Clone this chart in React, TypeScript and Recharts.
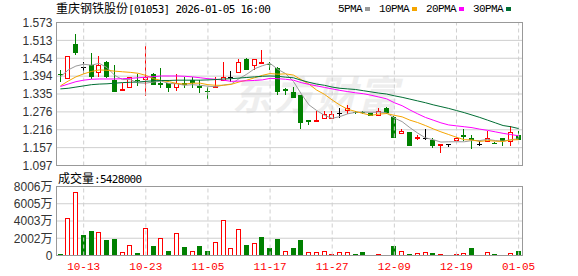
import React from "react";
import { ComposedChart, Bar, Line, XAxis, YAxis, CartesianGrid, ReferenceLine } from "recharts";

// trading days (HK), 60 sessions
const dates = [
  "10-08", "10-09", "10-10", "10-13", "10-14", "10-15", "10-16", "10-17", "10-20", "10-21",
  "10-22", "10-23", "10-24", "10-27", "10-28", "10-30", "10-31", "11-03", "11-04", "11-05",
  "11-06", "11-07", "11-10", "11-11", "11-12", "11-13", "11-14", "11-17", "11-18", "11-19",
  "11-20", "11-21", "11-24", "11-25", "11-26", "11-27", "11-28", "12-01", "12-02", "12-03",
  "12-04", "12-05", "12-08", "12-09", "12-10", "12-11", "12-12", "12-15", "12-16", "12-17",
  "12-18", "12-19", "12-22", "12-23", "12-24", "12-29", "12-30", "12-31", "01-02", "01-05",
];

const opens = [
  1.402, 1.384, 1.503, 1.425, 1.431, 1.404, 1.442, 1.381, 1.344, 1.354,
  1.382, 1.383, 1.403, 1.373, 1.370, 1.356, 1.373, 1.382, 1.360, 1.344,
  1.358, 1.377, 1.392, 1.404, 1.453, 1.428, 1.434, 1.434, 1.423, 1.353,
  1.343, 1.331, 1.249, 1.247, 1.251, 1.251, 1.273, 1.279, 1.276, 1.276,
  1.271, 1.262, 1.290, 1.260, 1.203, 1.209, 1.189, 1.188, 1.182, 1.163,
  1.169, 1.178, 1.199, 1.190, 1.169, 1.174, 1.172, 1.189, 1.174, 1.200,
];
const highs = [
  1.414, 1.462, 1.536, 1.442, 1.473, 1.462, 1.444, 1.433, 1.370, 1.392,
  1.402, 1.494, 1.405, 1.423, 1.373, 1.403, 1.390, 1.392, 1.382, 1.359,
  1.392, 1.442, 1.412, 1.453, 1.455, 1.453, 1.483, 1.443, 1.425, 1.355,
  1.357, 1.333, 1.250, 1.279, 1.279, 1.279, 1.287, 1.298, 1.279, 1.279,
  1.272, 1.290, 1.291, 1.261, 1.218, 1.210, 1.199, 1.220, 1.190, 1.169,
  1.169, 1.196, 1.220, 1.199, 1.179, 1.212, 1.174, 1.190, 1.229, 1.212,
];
const lows = [
  1.376, 1.384, 1.464, 1.403, 1.384, 1.393, 1.389, 1.343, 1.344, 1.354,
  1.363, 1.330, 1.364, 1.354, 1.343, 1.344, 1.354, 1.354, 1.338, 1.320,
  1.357, 1.377, 1.376, 1.404, 1.415, 1.415, 1.434, 1.415, 1.331, 1.332,
  1.321, 1.220, 1.231, 1.247, 1.251, 1.251, 1.254, 1.268, 1.268, 1.268,
  1.262, 1.262, 1.268, 1.190, 1.203, 1.163, 1.181, 1.183, 1.154, 1.138,
  1.160, 1.178, 1.179, 1.151, 1.163, 1.174, 1.168, 1.163, 1.163, 1.182,
];
const closes = [
  1.401, 1.462, 1.473, 1.425, 1.393, 1.433, 1.393, 1.343, 1.352, 1.392,
  1.378, 1.391, 1.364, 1.364, 1.354, 1.371, 1.366, 1.373, 1.354, 1.341,
  1.363, 1.392, 1.392, 1.442, 1.415, 1.453, 1.443, 1.430, 1.343, 1.346,
  1.321, 1.240, 1.243, 1.249, 1.268, 1.268, 1.273, 1.287, 1.274, 1.272,
  1.262, 1.279, 1.271, 1.190, 1.212, 1.163, 1.191, 1.188, 1.163, 1.169,
  1.169, 1.189, 1.191, 1.182, 1.169, 1.189, 1.170, 1.180, 1.209, 1.182,
];

const ma5 = [
  1.392, 1.415, 1.428, 1.434, 1.431, 1.437, 1.423, 1.397, 1.383, 1.383,
  1.372, 1.371, 1.375, 1.378, 1.370, 1.369, 1.364, 1.366, 1.364, 1.361,
  1.359, 1.365, 1.368, 1.386, 1.401, 1.419, 1.429, 1.437, 1.417, 1.403,
  1.377, 1.336, 1.299, 1.280, 1.264, 1.254, 1.260, 1.269, 1.274, 1.275,
  1.274, 1.275, 1.272, 1.255, 1.243, 1.223, 1.205, 1.189, 1.183, 1.175,
  1.176, 1.176, 1.176, 1.180, 1.180, 1.184, 1.180, 1.178, 1.183, 1.186,
];
const ma10 = [
  1.362, 1.378, 1.392, 1.402, 1.410, 1.415, 1.414, 1.411, 1.409, 1.407,
  1.404, 1.397, 1.386, 1.380, 1.376, 1.370, 1.368, 1.371, 1.371, 1.366,
  1.364, 1.364, 1.367, 1.375, 1.381, 1.389, 1.397, 1.403, 1.401, 1.402,
  1.398, 1.383, 1.368, 1.348, 1.334, 1.315, 1.298, 1.284, 1.277, 1.270,
  1.264, 1.268, 1.270, 1.264, 1.259, 1.248, 1.240, 1.230, 1.219, 1.209,
  1.200, 1.191, 1.183, 1.182, 1.177, 1.180, 1.178, 1.177, 1.182, 1.183,
];
const ma20 = [
  1.360, 1.368, 1.376, 1.381, 1.384, 1.385, 1.385, 1.385, 1.386, 1.387,
  1.389, 1.391, 1.393, 1.395, 1.395, 1.395, 1.394, 1.392, 1.389, 1.386,
  1.384, 1.381, 1.377, 1.378, 1.379, 1.380, 1.382, 1.387, 1.386, 1.384,
  1.381, 1.373, 1.367, 1.362, 1.357, 1.352, 1.347, 1.343, 1.339, 1.336,
  1.331, 1.325, 1.319, 1.306, 1.296, 1.282, 1.269, 1.257, 1.248, 1.239,
  1.232, 1.229, 1.226, 1.223, 1.218, 1.214, 1.209, 1.204, 1.200, 1.196,
];
const ma30 = [
  1.352, 1.354, 1.358, 1.362, 1.366, 1.368, 1.369, 1.371, 1.373, 1.374,
  1.375, 1.377, 1.379, 1.380, 1.380, 1.381, 1.381, 1.381, 1.381, 1.382,
  1.383, 1.385, 1.386, 1.388, 1.390, 1.392, 1.394, 1.395, 1.394, 1.391,
  1.389, 1.381, 1.374, 1.368, 1.364, 1.358, 1.354, 1.352, 1.350, 1.346,
  1.342, 1.338, 1.335, 1.329, 1.324, 1.318, 1.312, 1.306, 1.299, 1.293,
  1.287, 1.280, 1.273, 1.265, 1.257, 1.248, 1.239, 1.230, 1.226, 1.220,
];

// volume in 万股, up = red hollow bar
const volumes = [
  232, 4371, 7390, 2321, 2785, 2747, 1741, 1857, 426, 1238,
  348, 3211, 1045, 2050, 580, 2631, 929, 542, 1045, 580,
  1587, 4141, 890, 3096, 1161, 1470, 2090, 813, 1857, 542,
  813, 1741, 426, 426, 542, 232, 426, 426, 232, 464,
  116, 232, 116, 1045, 542, 232, 348, 464, 348, 232,
  116, 232, 348, 813, 116, 464, 232, 116, 348, 543,
];
const volUp = [
  0, 1, 1, 0, 0, 1, 0, 0, 1, 1,
  0, 1, 0, 1, 0, 1, 0, 1, 0, 0,
  1, 1, 1, 1, 0, 1, 0, 0, 0, 1,
  0, 0, 1, 1, 1, 1, 1, 1, 0, 0,
  0, 1, 0, 0, 1, 0, 1, 1, 0, 1,
  1, 1, 1, 0, 1, 1, 0, 1, 1, 0,
];

const priceTicks = [1.097, 1.1565, 1.216, 1.2755, 1.335, 1.3945, 1.454, 1.5135, 1.573];
const priceTickLabels = ["1.097", "1.157", "1.216", "1.276", "1.335", "1.394", "1.454", "1.513", "1.573"];
const volTicks = [0, 2002, 4003, 6005, 8006];
const volTickLabels = ["0", "2002万", "4003万", "6005万", "8006万"];
const dateTicks = ["10-13", "10-23", "11-05", "11-17", "11-27", "12-09", "12-19", "01-05"];

const UP = "#ff0000";
const DOWN = "#008000";
const FLAT = "#000000";
const GRID = "#cfcfcf";
const FRAME = "#999999";

const rows = dates.map((d, i) => ({
  date: d,
  open: opens[i],
  high: highs[i],
  low: lows[i],
  close: closes[i],
  range: [lows[i], highs[i]],
  ma5: ma5[i],
  ma10: ma10[i],
  ma20: ma20[i],
  ma30: ma30[i],
  vol: volumes[i],
  up: volUp[i] === 1,
}));

function Candle(props: any) {
  const { x, y, width, height, payload } = props;
  if (!payload) return null;
  const { open, close, high, low } = payload;
  const top = Math.min(y, y + height);
  const h = Math.abs(height);
  const k = high > low ? h / (high - low) : 0;
  const py = (v: number) => Math.round(top + (high - v) * k);
  const px = Math.floor(x + width / 2);
  const lx = px + 0.5;
  const yH = py(high);
  const yL = py(low);
  if (close > open) {
    const bt = py(close);
    const bb = py(open);
    return (
      <g>
        <line x1={lx} x2={lx} y1={yH} y2={bt} stroke={UP} />
        <line x1={lx} x2={lx} y1={bb} y2={yL} stroke={UP} />
        <rect x={px - 1.5} y={bt + 0.5} width={4} height={Math.max(bb - bt - 1, 1)} fill="#fff" stroke={UP} />
      </g>
    );
  }
  if (close < open) {
    const bt = py(open);
    const bb = py(close);
    return (
      <g>
        <line x1={lx} x2={lx} y1={yH} y2={yL} stroke={DOWN} />
        <rect x={px - 2} y={bt} width={5} height={Math.max(bb - bt, 1)} fill={DOWN} />
      </g>
    );
  }
  const yo = py(open) + 0.5;
  return (
    <g>
      <line x1={lx} x2={lx} y1={yH} y2={yL} stroke={FLAT} />
      <line x1={px - 2} x2={px + 3} y1={yo} y2={yo} stroke={FLAT} />
    </g>
  );
}

function VolBar(props: any) {
  const { x, y, width, height, payload } = props;
  if (!payload) return null;
  const l = Math.floor(x + width / 2) - 2;
  const t = Math.round(y);
  const b = Math.round(y + height);
  if (payload.up) {
    return <rect x={l + 0.5} y={t + 0.5} width={4} height={Math.max(b - t - 1, 0.5)} fill="#fff" stroke={UP} />;
  }
  return <rect x={l} y={t} width={5} height={Math.max(b - t, 1)} fill={DOWN} />;
}

const axisTick = { fill: "#333", fontSize: 12, fontFamily: "'Liberation Sans', 'Noto Sans CJK SC', sans-serif" };

const legend = [
  { name: "5PMA", color: "#999999" },
  { name: "10PMA", color: "#f5a500" },
  { name: "20PMA", color: "#ff00ff" },
  { name: "30PMA", color: "#006e34" },
];

export default function App() {
  return (
    <div style={{ position: "absolute", left: 0, top: 0, width: 578, height: 276, background: "#fff", overflow: "hidden" }}>
      {/* watermark */}
      <div
        style={{
          position: "absolute", left: 232, top: 73, fontSize: 40, lineHeight: "40px",
          fontWeight: 700, fontStyle: "italic", color: "#eeeeee",
          fontFamily: "'Noto Sans CJK SC', sans-serif", letterSpacing: 2,
        }}
      >
        东方财富
      </div>

      {/* title */}
      <div style={{ position: "absolute", left: 56, top: 0, height: 16, lineHeight: "16px", whiteSpace: "nowrap", color: "#000" }}>
        <span style={{ fontFamily: "'Noto Sans CJK SC', sans-serif", fontSize: 12 }}>重庆钢铁股份</span>
        <span style={{ fontFamily: "'DejaVu Sans Mono', monospace", fontSize: 11, letterSpacing: -0.7 }}>[01053] 2026-01-05 16:00</span>
      </div>

      {/* legend */}
      <div style={{ position: "absolute", left: 338, top: 1, height: 16, display: "flex", alignItems: "center", whiteSpace: "nowrap" }}>
        {legend.map((l) => (
          <div key={l.name} style={{ display: "flex", alignItems: "center", marginRight: 9 }}>
            <span style={{ fontFamily: "'Liberation Mono', monospace", fontSize: 11, letterSpacing: -0.6, color: "#000" }}>{l.name}</span>
            <span style={{ display: "inline-block", width: 5, height: 4, background: l.color, marginLeft: 3 }} />
          </div>
        ))}
      </div>

      {/* price panel */}
      <div style={{ position: "absolute", left: 0, top: 0 }}>
        <ComposedChart width={578} height={178} data={rows} margin={{ top: 22.5, right: 55.5, bottom: 12.5, left: 0 }}>
          <CartesianGrid vertical={false} stroke={GRID} />
          <XAxis dataKey="date" hide />
          <YAxis
            width={56.5}
            domain={[1.097, 1.573]}
            ticks={priceTicks}
            interval={0}
            allowDataOverflow
            axisLine={false}
            tickLine={false}
            tickSize={0}
            tickMargin={4}
            tick={axisTick}
            tickFormatter={(v: number) => priceTickLabels[priceTicks.indexOf(v)]}
          />
          {dateTicks.map((d) => (
            <ReferenceLine key={d} x={d} stroke={GRID} strokeDasharray="4 3" />
          ))}
          <Bar dataKey="range" barSize={5} shape={<Candle />} isAnimationActive={false} />
          <Line type="linear" dataKey="ma5" stroke="#999999" strokeWidth={1} dot={false} activeDot={false} isAnimationActive={false} />
          <Line type="linear" dataKey="ma10" stroke="#f5a500" strokeWidth={1} dot={false} activeDot={false} isAnimationActive={false} />
          <Line type="linear" dataKey="ma20" stroke="#ff00ff" strokeWidth={1} dot={false} activeDot={false} isAnimationActive={false} />
          <Line type="linear" dataKey="ma30" stroke="#006e34" strokeWidth={1} dot={false} activeDot={false} isAnimationActive={false} />
        </ComposedChart>
      </div>
      <div style={{ position: "absolute", left: 56, top: 22, width: 467, height: 144, boxSizing: "border-box", border: `1px solid ${FRAME}` }} />

      {/* volume label */}
      <div style={{ position: "absolute", left: 58, top: 170, height: 16, lineHeight: "16px", whiteSpace: "nowrap", color: "#000" }}>
        <span style={{ fontFamily: "'Noto Sans CJK SC', sans-serif", fontSize: 12 }}>成交量</span>
        <span style={{ fontFamily: "'DejaVu Sans Mono', monospace", fontSize: 11, letterSpacing: -0.7 }}>:5428000</span>
      </div>

      {/* volume panel */}
      <div style={{ position: "absolute", left: 0, top: 170 }}>
        <ComposedChart width={578} height={106} data={rows} margin={{ top: 16.5, right: 55.5, bottom: 2.5, left: 0 }}>
          <CartesianGrid vertical={false} stroke={GRID} />
          <XAxis
            dataKey="date"
            ticks={dateTicks}
            interval={0}
            height={18}
            axisLine={false}
            tickLine={false}
            tickSize={0}
            tickMargin={7}
            tick={{ fill: UP, fontSize: 11, fontFamily: "'Liberation Mono', monospace" }}
          />
          <YAxis
            width={56.5}
            domain={[0, 8006]}
            ticks={volTicks}
            interval={0}
            allowDataOverflow
            axisLine={false}
            tickLine={false}
            tickSize={0}
            tickMargin={4}
            tick={axisTick}
            tickFormatter={(v: number) => volTickLabels[volTicks.indexOf(v)]}
          />
          {dateTicks.map((d) => (
            <ReferenceLine key={d} x={d} stroke={GRID} strokeDasharray="4 3" />
          ))}
          <Bar dataKey="vol" barSize={5} shape={<VolBar />} isAnimationActive={false} />
        </ComposedChart>
      </div>
      <div style={{ position: "absolute", left: 56, top: 186, width: 467, height: 70, boxSizing: "border-box", border: `1px solid ${FRAME}` }} />
    </div>
  );
}
